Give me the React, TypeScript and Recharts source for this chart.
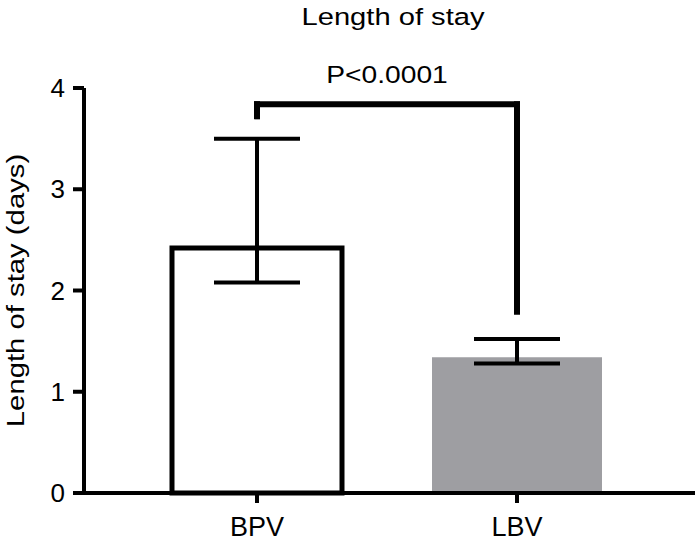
import React from "react";
import { BarChart, Bar, XAxis, YAxis, ErrorBar, Cell, ReferenceLine } from "recharts";

const groups = ["BPV", "LBV"];
const means = [2.42, 1.34];
const lower = [2.08, 1.28];
const upper = [3.5, 1.52];
const barFills = ["#ffffff", "#9e9ea2"];
const yTicks = [0, 1, 2, 3, 4];
// significance bracket (in axis units)
const bracketTop = 3.84;
const bracketEnds = [3.72, 1.79];
const pLabel = "P<0.0001";
const title = "Length of stay";
const yLabel = "Length of stay (days)";

const FONT = '"Liberation Sans", Arial, Helvetica, sans-serif';

const data = groups.map((g, i) => ({
  group: g,
  mean: means[i],
  err: [means[i] - lower[i], upper[i] - means[i]],
}));

function YLabel(props: any) {
  const vb = props.viewBox || {};
  const cy = vb.y + vb.height / 2;
  return (
    <text
      transform={`translate(24,${cy}) rotate(-90) scale(1.22,1)`}
      textAnchor="middle"
      fontSize={24}
      fontFamily={FONT}
      fill="#000"
    >
      {yLabel}
    </text>
  );
}

function PLabel(props: any) {
  const vb = props.viewBox || {};
  const cx = vb.x + vb.width / 2;
  return (
    <text
      transform={`translate(${cx},${vb.y - 21}) scale(1.2,1)`}
      textAnchor="middle"
      fontSize={23.5}
      fontFamily={FONT}
      fill="#000"
    >
      {pLabel}
    </text>
  );
}

export default function App() {
  const axisStyle = { stroke: "#000", strokeWidth: 4 };
  const bracket = { stroke: "#000", strokeWidth: 6, strokeLinecap: "square" as const };
  return (
    <div style={{ position: "absolute", left: 0, top: 0, width: 695, height: 544, background: "#fff" }}>
      <svg width={695} height={40} style={{ position: "absolute", left: 0, top: 0 }}>
        <text
          transform="translate(393,25) scale(1.19,1)"
          textAnchor="middle"
          fontSize={24.5}
          fontFamily={FONT}
          fill="#000"
        >
          {title}
        </text>
      </svg>
      <BarChart
        width={695}
        height={544}
        data={data}
        margin={{ top: 88, right: 0, bottom: 0, left: 0 }}
        style={{ position: "absolute", left: 0, top: 0 }}
      >
        <XAxis
          dataKey="group"
          padding={{ left: 43, right: 48 }}
          height={51}
          tickSize={10}
          tickMargin={14}
          axisLine={axisStyle}
          tickLine={axisStyle}
          tick={{ fontSize: 27, fill: "#000", fontFamily: FONT }}
        />
        <YAxis
          width={84}
          domain={[0, 4]}
          ticks={yTicks}
          interval={0}
          tickSize={11}
          tickMargin={8}
          axisLine={axisStyle}
          tickLine={axisStyle}
          tick={{ fontSize: 26, fill: "#000", fontFamily: FONT }}
          label={{ content: YLabel }}
        />
        <Bar dataKey="mean" barSize={170} isAnimationActive={false}>
          {data.map((d, i) => (
            <Cell
              key={d.group}
              fill={barFills[i]}
              stroke={i === 0 ? "#000" : "none"}
              strokeWidth={i === 0 ? 5 : 0}
            />
          ))}
          <ErrorBar dataKey="err" width={43} stroke="#000" strokeWidth={4} isAnimationActive={false} />
        </Bar>
        <ReferenceLine
          segment={[
            { x: groups[0], y: bracketEnds[0] },
            { x: groups[0], y: bracketTop },
          ]}
          {...bracket}
        />
        <ReferenceLine
          segment={[
            { x: groups[0], y: bracketTop },
            { x: groups[1], y: bracketTop },
          ]}
          {...bracket}
          label={{ content: PLabel }}
        />
        <ReferenceLine
          segment={[
            { x: groups[1], y: bracketTop },
            { x: groups[1], y: bracketEnds[1] },
          ]}
          {...bracket}
        />
      </BarChart>
    </div>
  );
}
